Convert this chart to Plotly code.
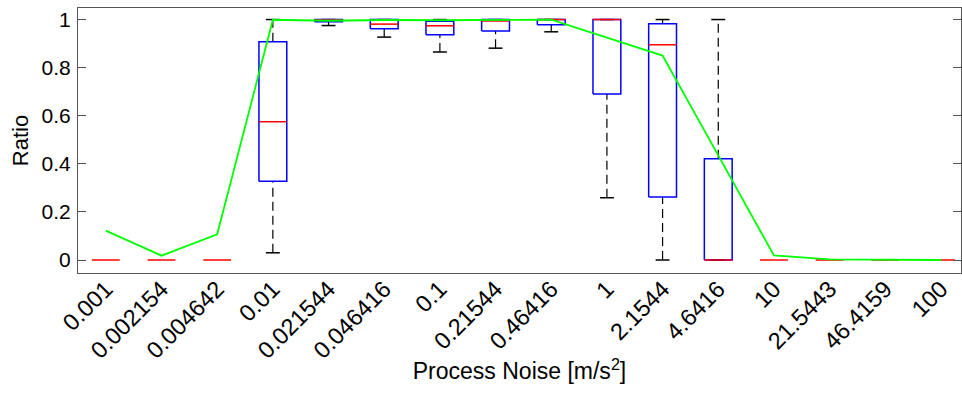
import plotly.graph_objects as go

categories = ["0.001", "0.002154", "0.004642", "0.01", "0.021544", "0.046416", "0.1",
              "0.21544", "0.46416", "1", "2.1544", "4.6416", "10", "21.5443", "46.4159", "100"]
lower_whisker = [0, 0, 0, 0.03, 0.975, 0.927, 0.865, 0.881, 0.949, 0.259, 0, 0, 0, 0, 0, 0]
q1 = [0, 0, 0, 0.328, 0.991, 0.962, 0.937, 0.952, 0.978, 0.69, 0.262, 0, 0, 0, 0, 0]
median = [0, 0, 0, 0.575, 0.998, 0.981, 0.974, 0.994, 1.0, 1.0, 0.895, 0, 0, 0, 0, 0]
q3 = [0, 0, 0, 0.908, 1.0, 1.0, 0.993, 1.0, 1.0, 1.0, 0.983, 0.421, 0, 0, 0, 0]
upper_whisker = [0, 0, 0, 1.0, 1.0, 1.0, 1.0, 1.0, 1.0, 1.0, 1.0, 1.0, 0, 0, 0, 0]
mean_ratio = [0.122, 0.018, 0.107, 0.999, 0.995, 0.998, 0.997, 0.998, 1.0, 0.925,
              0.85, 0.435, 0.019, 0.003, 0.0, 0.0]

BOX_HALF = 0.25
CAP_HALF = 0.125
pos = list(range(1, len(categories) + 1))

wx, wy, cx, cy, bx, by, mx, my = [], [], [], [], [], [], [], []
for p, lw, a, m, b, uw in zip(pos, lower_whisker, q1, median, q3, upper_whisker):
    if uw > lw:
        wx += [p, p, None, p, p, None]
        wy += [lw, a, None, b, uw, None]
        cx += [p - CAP_HALF, p + CAP_HALF, None, p - CAP_HALF, p + CAP_HALF, None]
        cy += [lw, lw, None, uw, uw, None]
    if b > a:
        bx += [p - BOX_HALF, p + BOX_HALF, p + BOX_HALF, p - BOX_HALF, p - BOX_HALF, None]
        by += [a, a, b, b, a, None]
    mx += [p - BOX_HALF, p + BOX_HALF, None]
    my += [m, m, None]

fig = go.Figure()
fig.add_trace(go.Scatter(x=wx, y=wy, mode="lines", line=dict(color="black", width=1.2, dash="9px,5px"),
                         hoverinfo="skip"))
fig.add_trace(go.Scatter(x=cx, y=cy, mode="lines", line=dict(color="black", width=1.5), hoverinfo="skip"))
fig.add_trace(go.Scatter(x=bx, y=by, mode="lines", line=dict(color="#0000ff", width=1.5), hoverinfo="skip"))
fig.add_trace(go.Scatter(x=mx, y=my, mode="lines", line=dict(color="#ff0000", width=1.5), hoverinfo="skip"))
fig.add_trace(go.Scatter(x=pos, y=mean_ratio, mode="lines", line=dict(color="#00ff00", width=1.8)))

font = "Liberation Sans, Arial, sans-serif"
fig.update_layout(
    width=962, height=394,
    margin=dict(l=78, r=1, t=8, b=121),
    paper_bgcolor="white", plot_bgcolor="white",
    showlegend=False,
    font=dict(family=font, size=21, color="#000000"),
)
fig.update_xaxes(
    range=[0.5, 16.36], tickvals=pos, ticktext=categories, tickangle=-45,
    ticks="", showgrid=False, zeroline=False,
    showline=True, mirror=True, linecolor="#555", linewidth=1,
    tickfont=dict(size=23.5), ticklabelstandoff=-8,
    title=dict(text="Process Noise [m/s<sup>2</sup>]", font=dict(size=23), standoff=0),
)
fig.update_yaxes(
    range=[-0.054, 1.048], tickvals=[0, 0.2, 0.4, 0.6, 0.8, 1],
    ticktext=["0", "0.2", "0.4", "0.6", "0.8", "1"],
    ticks="inside", ticklen=8, tickcolor="#555",
    showgrid=False, zeroline=False,
    showline=True, mirror="ticks", linecolor="#555", linewidth=1,
    ticklabelstandoff=2,
    tickfont=dict(size=21),
    title=dict(text="Ratio", font=dict(size=22), standoff=6),
)
fig.write_html("out.html")
